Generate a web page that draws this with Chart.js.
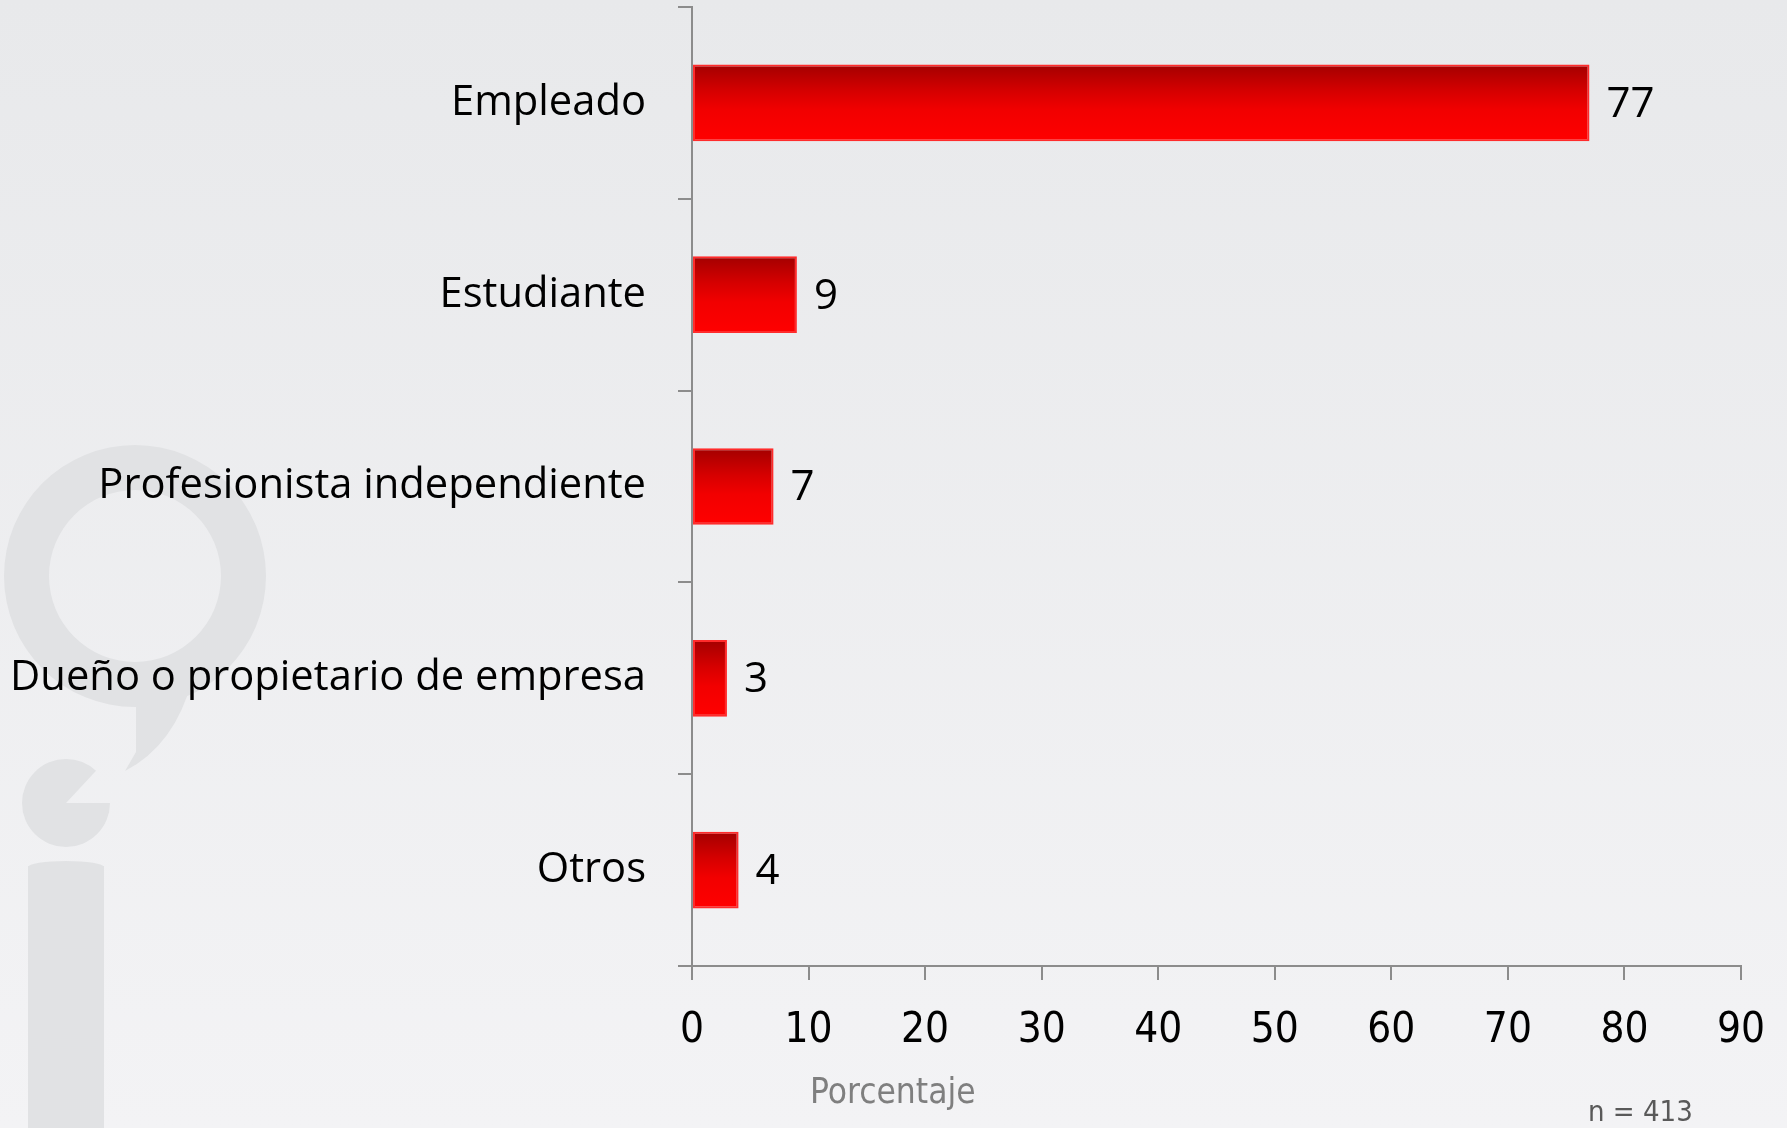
<!DOCTYPE html>
<html>
<head>
<meta charset="utf-8">
<script src="https://cdn.jsdelivr.net/npm/chart.js@4.4.1/dist/chart.umd.min.js"></script>
<style>
    html, body {
        margin: 0;
        padding: 0;
        background: #eeeff1;
    }
    #wrap {
        width: 1787px;
        height: 1128px;
        position: relative;
    }
</style>
</head>
<body>
<div id="wrap"><canvas id="chart"></canvas></div>
<script>
const categories = ['Empleado', 'Estudiante', 'Profesionista independiente', 'Dueño o propietario de empresa', 'Otros'];
const values = [77, 9, 7, 3, 4];
const xTicks = [0, 10, 20, 30, 40, 50, 60, 70, 80, 90];
const axisTitle = 'Porcentaje';
const sampleNote = 'n = 413';

const palette = {
    axis: '#8c8c8c',
    ink: '#000000',
    muted: '#7f7f7f',
    note: '#595959',
    barTop: '#a30000',
    barMid: '#d60000',
    barLow: '#f20000',
    barBottom: '#ff0000',
    barEdge: '#ff2b2b',
    mark: '#e1e2e4'
};

const backgroundPlugin = {
    id: 'background',
    beforeDraw(chart) {
        const ctx = chart.ctx;
        const w = chart.width;
        const h = chart.height;
        ctx.save();
        const bg = ctx.createLinearGradient(0, 0, 0, h);
        bg.addColorStop(0, '#e8e9eb');
        bg.addColorStop(1, '#f3f3f5');
        ctx.fillStyle = bg;
        ctx.fillRect(0, 0, w, h);

        // faint logo watermark on the left
        ctx.fillStyle = palette.mark;
        ctx.beginPath();
        ctx.arc(135, 576, 131, 0, Math.PI * 2);
        ctx.arc(135, 576, 86, 0, Math.PI * 2, true);
        ctx.fill('evenodd');
        // tail of the ring
        ctx.beginPath();
        ctx.moveTo(136, 680);
        ctx.lineTo(192, 680);
        ctx.quadraticCurveTo(175, 745, 125, 771);
        ctx.lineTo(136, 752);
        ctx.closePath();
        ctx.fill();
        // dot with a wedge cut out
        ctx.beginPath();
        ctx.moveTo(66, 803);
        ctx.arc(66, 803, 44, 0, Math.PI * 2 - 0.82);
        ctx.closePath();
        ctx.fill();
        ctx.beginPath();
        ctx.rect(28, 866, 76, h - 866);
        ctx.fill();
        ctx.beginPath();
        ctx.ellipse(66, 867, 38, 6, 0, Math.PI, 0);
        ctx.fill();
        ctx.restore();
    }
};

const barGradientPlugin = {
    id: 'barGradient',
    beforeDatasetsDraw(chart) {
        const ctx = chart.ctx;
        chart.getDatasetMeta(0).data.forEach((bar) => {
            const top = bar.y - bar.height / 2;
            const g = ctx.createLinearGradient(0, top, 0, top + bar.height);
            g.addColorStop(0, palette.barTop);
            g.addColorStop(0.35, palette.barMid);
            g.addColorStop(0.6, palette.barLow);
            g.addColorStop(1, palette.barBottom);
            // options are shared between bars, so give each bar its own copy
            bar.options = Object.assign({}, bar.options, { backgroundColor: g });
        });
    },
    afterDatasetsDraw(chart) {
        const ctx = chart.ctx;
        ctx.save();
        ctx.font = '42px "Open Sans"';
        ctx.fillStyle = palette.ink;
        ctx.textAlign = 'left';
        ctx.textBaseline = 'middle';
        chart.getDatasetMeta(0).data.forEach((bar, i) => {
            ctx.fillText(String(values[i]), bar.x + 17, bar.y + 2);
        });
        ctx.restore();
    },
    afterDraw(chart) {
        const ctx = chart.ctx;
        ctx.save();
        ctx.textBaseline = 'middle';
        ctx.textAlign = 'left';
        ctx.fillStyle = palette.muted;
        ctx.font = '35px "DejaVu Sans Condensed", "Liberation Sans Narrow", sans-serif';
        ctx.fillText(axisTitle, 810, 1094);
        ctx.fillStyle = palette.note;
        ctx.font = '29px "DejaVu Sans Condensed", "Liberation Sans Narrow", sans-serif';
        ctx.fillText(sampleNote, 1588, 1113);
        ctx.restore();
    }
};

new Chart(document.getElementById('chart'), {
    type: 'bar',
    data: {
        labels: categories,
        datasets: [{
            data: values,
            backgroundColor: palette.barBottom,
            borderColor: palette.barEdge,
            borderWidth: 2,
            borderSkipped: false,
            categoryPercentage: 1,
            barPercentage: 0.4
        }]
    },
    options: {
        indexAxis: 'y',
        responsive: true,
        maintainAspectRatio: false,
        animation: false,
        layout: {
            padding: { top: 7, right: 46, left: 0, bottom: 0 }
        },
        plugins: {
            legend: { display: false },
            tooltip: { enabled: false }
        },
        scales: {
            x: {
                min: 0,
                max: 90,
                afterBuildTicks: (scale) => {
                    scale.ticks = xTicks.map((value) => ({ value }));
                },
                afterFit: (scale) => {
                    scale.height = 162;
                    scale.paddingLeft = 0;
                    scale.paddingRight = 0;
                },
                grid: {
                    drawOnChartArea: false,
                    drawTicks: true,
                    tickLength: 14,
                    color: palette.axis,
                    lineWidth: 2
                },
                border: {
                    color: palette.axis,
                    width: 2
                },
                ticks: {
                    color: palette.ink,
                    padding: 26,
                    maxRotation: 0,
                    font: {
                        family: '"DejaVu Sans Condensed", "Liberation Sans Narrow", sans-serif',
                        size: 42
                    }
                }
            },
            y: {
                afterFit: (scale) => {
                    scale.width = 692;
                    scale.paddingTop = 0;
                    scale.paddingBottom = 0;
                },
                grid: {
                    drawOnChartArea: false,
                    drawTicks: true,
                    tickLength: 14,
                    color: palette.axis,
                    lineWidth: 2,
                    offset: true
                },
                border: {
                    color: palette.axis,
                    width: 2
                },
                ticks: {
                    color: palette.ink,
                    padding: 32,
                    font: {
                        family: '"Open Sans"',
                        size: 41.7
                    }
                }
            }
        }
    },
    plugins: [backgroundPlugin, barGradientPlugin]
});
</script>
</body>
</html>
